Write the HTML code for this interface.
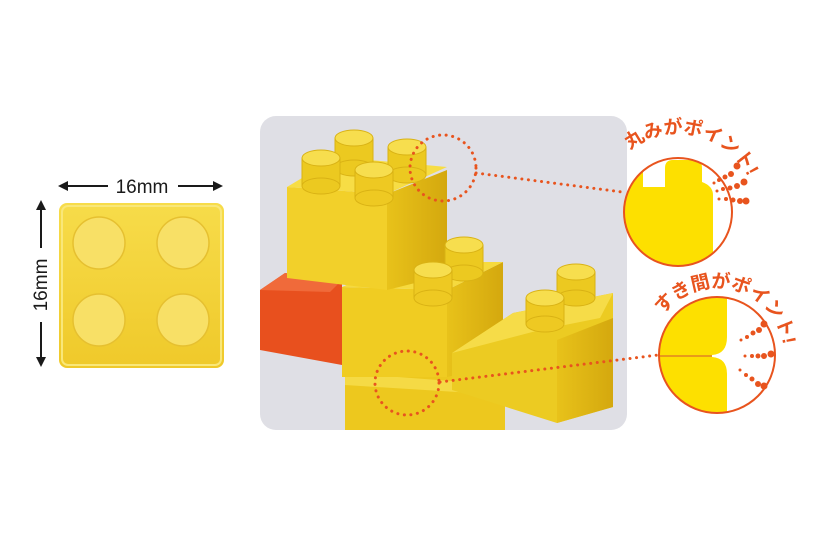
<!DOCTYPE html>
<html><head><meta charset="utf-8"><style>
html,body{margin:0;padding:0;background:#fff;width:820px;height:546px;overflow:hidden}
svg{display:block}
text{font-family:"Liberation Sans","Noto Sans CJK JP",sans-serif}
</style></head><body>
<svg width="820" height="546" viewBox="0 0 820 546" xmlns="http://www.w3.org/2000/svg">
<defs>
<linearGradient id="lb" x1="0" y1="0" x2="0" y2="1"><stop offset="0" stop-color="#f7dc4a"/><stop offset="1" stop-color="#efc92a"/></linearGradient>
<linearGradient id="side" x1="0" y1="0" x2="1" y2="0"><stop offset="0" stop-color="#e8c21a"/><stop offset="1" stop-color="#d4a80e"/></linearGradient>
<clipPath id="panel"><rect x="260" y="116" width="367" height="314" rx="16"/></clipPath>
<clipPath id="c1"><circle cx="678" cy="212" r="54"/></clipPath>
<clipPath id="c2"><circle cx="717" cy="355" r="58"/></clipPath>
<path id="arc1" d="M630,150 A78,78 0 0 1 749,179"/>
<path id="arc2" d="M663,315 A67,67 0 0 1 784,353"/>
</defs>

<g fill="#1a1a1a">
<line x1="62" y1="186" x2="108" y2="186" stroke="#1a1a1a" stroke-width="2"/>
<polygon points="58,186 68,181 68,191"/>
<line x1="178" y1="186" x2="218" y2="186" stroke="#1a1a1a" stroke-width="2"/>
<polygon points="223,186 213,181 213,191"/>
<text x="142" y="193" font-size="19" text-anchor="middle">16mm</text>
<line x1="41" y1="204" x2="41" y2="248" stroke="#1a1a1a" stroke-width="2"/>
<polygon points="41,200 36,210 46,210"/>
<line x1="41" y1="322" x2="41" y2="362" stroke="#1a1a1a" stroke-width="2"/>
<polygon points="41,367 36,357 46,357"/>
<text transform="translate(47,285) rotate(-90)" font-size="19" text-anchor="middle">16mm</text>
</g>
<rect x="59" y="203" width="165" height="165" rx="8" fill="url(#lb)"/>
<rect x="62" y="206" width="159" height="159" rx="6" fill="none" stroke="#f9e779" stroke-width="2"/>
<g fill="#f8e066" stroke="#e6c030" stroke-width="1.5">
<circle cx="99" cy="243" r="26"/><circle cx="183" cy="243" r="26"/>
<circle cx="99" cy="320" r="26"/><circle cx="183" cy="320" r="26"/>
</g>

<rect x="260" y="116" width="367" height="314" rx="16" fill="#dfdfe5"/>
<g clip-path="url(#panel)">
<polygon points="260,290 285,273 342,280 342,365 260,350" fill="#e8501e"/>
<polygon points="260,290 285,273 342,280 330,292" fill="#f06a3a"/>
<rect x="345" y="373" width="160" height="60" fill="#edc81e"/>
<polygon points="345,373 505,385 505,395 345,385" fill="#f5da45"/>
<polygon points="342,287 447,290 447,377 342,377" fill="#f0cc22"/>
<polygon points="447,290 503,262 503,365 447,377" fill="url(#side)"/>
<polygon points="342,287 400,262 503,262 447,290" fill="#f6da3e"/>
<polygon points="452,353 513,313 613,293 613,407 557,423 452,390" fill="#eccb22"/>
<polygon points="452,353 513,313 613,293 600,318 540,330" fill="#f6dc48"/>
<polygon points="557,340 613,318 613,407 557,423" fill="url(#side)"/>
<polygon points="287,187 387,194 387,290 287,278" fill="#f2d02a"/>
<polygon points="387,194 447,170 447,275 387,290" fill="url(#side)"/>
<polygon points="287,187 337,157 447,167 387,194" fill="#f7dd45"/>
<g stroke="#d9b214" stroke-width="1">
<g><rect x="335" y="138" width="38" height="30" fill="#ecc920"/><ellipse cx="354" cy="138" rx="19" ry="8" fill="#f7de4e"/><ellipse cx="354" cy="168" rx="19" ry="8" fill="#ecc920"/></g>
<g><rect x="302" y="158" width="38" height="28" fill="#ecc920"/><ellipse cx="321" cy="158" rx="19" ry="8" fill="#f7de4e"/><ellipse cx="321" cy="186" rx="19" ry="8" fill="#ecc920"/></g>
<g><rect x="388" y="147" width="38" height="28" fill="#ecc920"/><ellipse cx="407" cy="147" rx="19" ry="8" fill="#f7de4e"/><ellipse cx="407" cy="175" rx="19" ry="8" fill="#ecc920"/></g>
<g><rect x="355" y="170" width="38" height="28" fill="#eec922"/><ellipse cx="374" cy="170" rx="19" ry="8" fill="#f7de4e"/><ellipse cx="374" cy="198" rx="19" ry="8" fill="#eec922"/></g>
<g><rect x="445" y="245" width="38" height="28" fill="#ecc920"/><ellipse cx="464" cy="245" rx="19" ry="8" fill="#f7de4e"/><ellipse cx="464" cy="273" rx="19" ry="8" fill="#ecc920"/></g>
<g><rect x="414" y="270" width="38" height="28" fill="#eec922"/><ellipse cx="433" cy="270" rx="19" ry="8" fill="#f7de4e"/><ellipse cx="433" cy="298" rx="19" ry="8" fill="#eec922"/></g>
<g><rect x="557" y="272" width="38" height="26" fill="#ecc920"/><ellipse cx="576" cy="272" rx="19" ry="8" fill="#f7de4e"/><ellipse cx="576" cy="298" rx="19" ry="8" fill="#ecc920"/></g>
<g><rect x="526" y="298" width="38" height="26" fill="#eec922"/><ellipse cx="545" cy="298" rx="19" ry="8" fill="#f7de4e"/><ellipse cx="545" cy="324" rx="19" ry="8" fill="#eec922"/></g>
</g>
</g>

<g fill="none" stroke="#e8541e" stroke-width="3" stroke-linecap="round" stroke-dasharray="0.1 6.5">
<circle cx="443" cy="168" r="33"/>
<circle cx="407" cy="383" r="32"/>
<line x1="476" y1="173" x2="622" y2="192"/>
<line x1="440" y1="382" x2="658" y2="355"/>
</g>

<circle cx="678" cy="212" r="54" fill="#fff"/>
<g clip-path="url(#c1)">
<path d="M600,300 L600,168 Q600,160 608,160 L636,160 Q643,160 643,168 L643,187 L665,187 L665,168 Q665,160 673,160 L695,160 Q702,160 702,168 L702,182 Q713,186 713,195 L713,300 Z" fill="#fde000"/>
</g>
<circle cx="678" cy="212" r="54" fill="none" stroke="#e8541e" stroke-width="2"/>
<circle cx="717" cy="355" r="58" fill="#fff"/>
<g clip-path="url(#c2)">
<path d="M640,280 L727,280 L727,337 Q727,354 712,355 L640,355 Z" fill="#fde000"/>
<path d="M640,357 L712,357 Q727,358 727,374 L727,430 L640,430 Z" fill="#fde000"/>
<line x1="650" y1="356" x2="712" y2="356" stroke="#e89a1a" stroke-width="2"/>
</g>
<circle cx="717" cy="355" r="58" fill="none" stroke="#e8541e" stroke-width="2"/>

<g fill="#e8541e">
<circle cx="714" cy="183" r="1.5"/><circle cx="719" cy="180" r="2"/><circle cx="725" cy="177" r="2.5"/><circle cx="731" cy="174" r="3"/><circle cx="737" cy="166" r="3.5"/>
<circle cx="717" cy="191" r="1.5"/><circle cx="723" cy="189" r="2"/><circle cx="730" cy="188" r="2.5"/><circle cx="737" cy="186" r="3"/><circle cx="744" cy="182" r="3.5"/>
<circle cx="719" cy="199" r="1.5"/><circle cx="726" cy="199" r="2"/><circle cx="733" cy="200" r="2.5"/><circle cx="740" cy="201" r="3"/><circle cx="746" cy="201" r="3.5"/>
<circle cx="741" cy="340" r="1.5"/><circle cx="747" cy="337" r="2"/><circle cx="753" cy="333" r="2.5"/><circle cx="759" cy="330" r="3"/><circle cx="764" cy="324" r="3.5"/>
<circle cx="745" cy="356" r="1.5"/><circle cx="752" cy="356" r="2"/><circle cx="758" cy="356" r="2.5"/><circle cx="764" cy="356" r="3"/><circle cx="771" cy="354" r="3.5"/>
<circle cx="740" cy="370" r="1.5"/><circle cx="746" cy="375" r="2"/><circle cx="752" cy="379" r="2.5"/><circle cx="758" cy="384" r="3"/><circle cx="764" cy="386" r="3.5"/>
</g>

<text font-size="19" font-weight="bold" fill="#e8541e"><textPath href="#arc1" textLength="138" lengthAdjust="spacing">丸みがポイント!</textPath></text>
<text font-size="19" font-weight="bold" fill="#e8541e"><textPath href="#arc2" textLength="158" lengthAdjust="spacing">すき間がポイント!</textPath></text>
</svg>
</body></html>
